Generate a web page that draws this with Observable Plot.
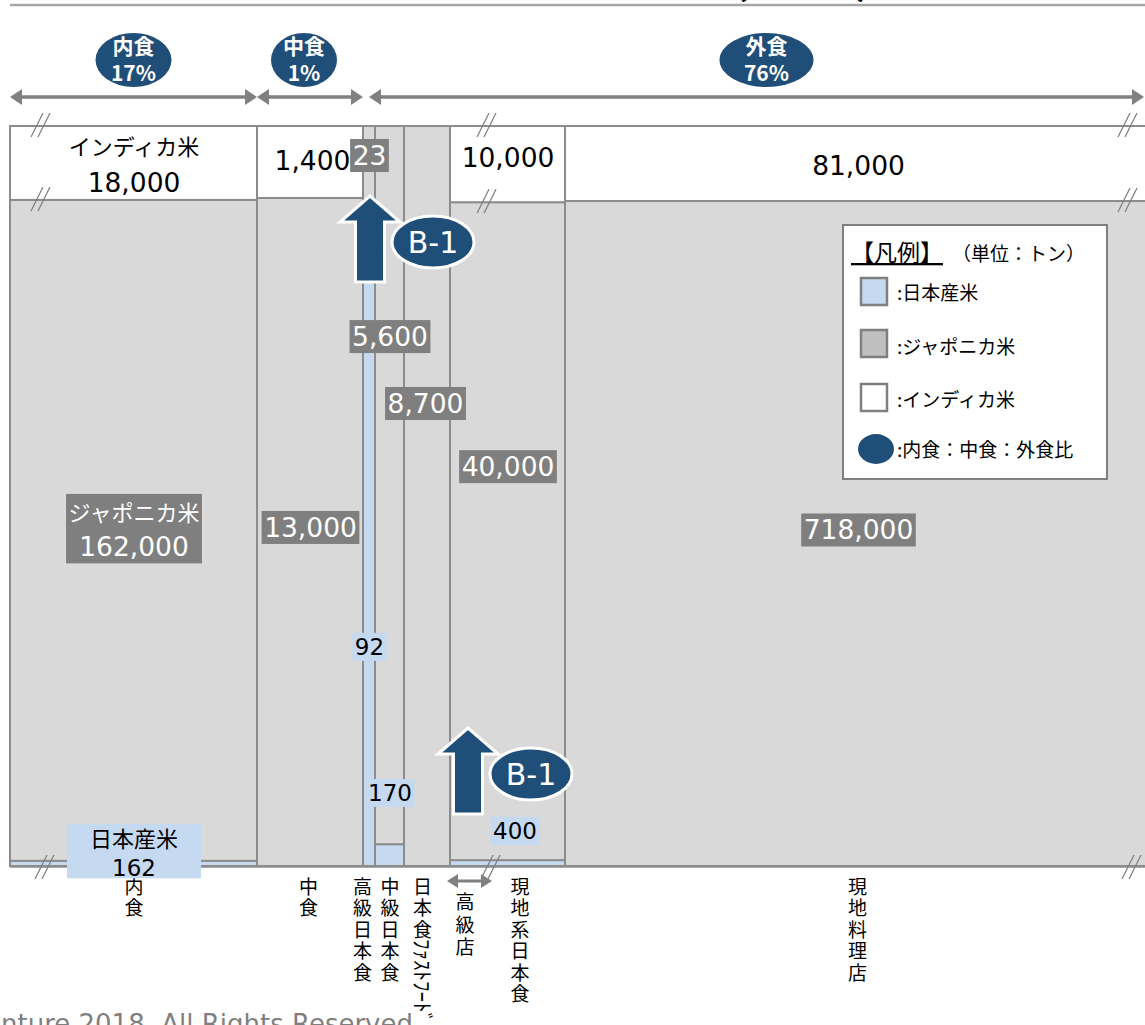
<!DOCTYPE html>
<html lang="ja">
<head>
<meta charset="utf-8">
<script src="https://cdn.jsdelivr.net/npm/d3@7"></script>
<script src="https://cdn.jsdelivr.net/npm/@observablehq/plot@0.6"></script>
<style>
  html, body { margin: 0; padding: 0; background: #fff; overflow: hidden; }
  #chart svg { display: block; }
</style>
</head>
<body>
<div id="chart"></div>
<script>
// ---- data: rice consumption by channel (tonnes) ----
const columns = ["内食", "中食", "高級日本食", "中級日本食", "日本食ﾌｧｽﾄﾌｰﾄﾞ", "現地系日本食", "現地料理店"];
const japaneseRice = [162, 0, 92, 170, 0, 400, 0];
const japonicaRice = [162000, 13000, 23, 5600, 8700, 40000, 718000];
const indicaRice = [18000, 1400, 0, 0, 0, 10000, 81000];
const riceTypes = ["日本産米", "ジャポニカ米", "インディカ米"];
const channels = ["内食", "中食", "外食"];
const channelShare = ["17%", "1%", "76%"];
const channelFirstColumn = [0, 1, 2];
const highEndLabel = "高級店";
const calloutLabel = "B-1";
const legendTitle = "【凡例】";
const legendUnit = "（単位：トン）";
const legendRatio = "内食：中食：外食比";
const titleText = "(推計値)";
const copyrightText = "Copyright © Accenture 2018. All Rights Reserved";

// ---- layout ----
const W = 1145, H = 1025;
const columnSpan = [247, 106, 12, 29, 46, 115, 586]; // display widths (broken axis, not to scale)
const INDICA_CAP = 0.103;   // taller indica bands are drawn broken
const JAPAN_FLOOR = 0.007;  // thinnest visible strip
const FONT = "'DejaVu Sans', 'Noto Sans CJK JP', sans-serif";
const JP = "'Noto Sans CJK JP', 'Noto Sans', sans-serif";
const NAVY = "#1f4e79", GRAY = "#808080", EDGE = "#8c8c8c";
const fillColors = ["#c5d9f1", "#d9d9d9", "#ffffff"];

let acc = 0;
const cols = columns.map((name, i) => {
  const x1 = acc, x2 = acc + columnSpan[i];
  acc = x2;
  const total = japaneseRice[i] + japonicaRice[i] + indicaRice[i];
  const sj = japaneseRice[i] ? Math.max(japaneseRice[i] / total, JAPAN_FLOOR) : 0;
  const sn = indicaRice[i] ? Math.min(indicaRice[i] / total, INDICA_CAP) : 0;
  return {name, i, x1, x2, sj, sn};
});
const cells = cols.flatMap(c => [
  {col: c.i, type: riceTypes[0], value: japaneseRice[c.i], x1: c.x1, x2: c.x2, y1: 0, y2: c.sj},
  {col: c.i, type: riceTypes[1], value: japonicaRice[c.i], x1: c.x1, x2: c.x2, y1: c.sj, y2: 1 - c.sn},
  {col: c.i, type: riceTypes[2], value: indicaRice[c.i], x1: c.x1, x2: c.x2, y1: 1 - c.sn, y2: 1}
]).filter(d => d.value > 0);

// value label placement: t = rice type index, offsets in pixels
const labelPlacement = [
  {col: 0, t: 2, named: true, nameDy: -16, numDy: 20},
  {col: 1, t: 2, dx: 2, dy: -1},
  {col: 5, t: 2, dy: -6},
  {col: 6, t: 2, dy: 3},
  {col: 0, t: 1, named: true, nameDy: -17, numDy: 17},
  {col: 1, t: 1, dy: -4},
  {col: 2, t: 1, dy: -44},
  {col: 3, t: 1, dy: -148},
  {col: 4, t: 1, dx: -2, dy: -92},
  {col: 5, t: 1, dy: -64},
  {col: 6, t: 1, dy: -3},
  {col: 0, t: 0, named: true, nameDy: -24, numDy: 5, padX: 23, padY: -3},
  {col: 2, t: 0, dy: 77},
  {col: 3, t: 0, dy: -62},
  {col: 5, t: 0, dx: 7, dy: -32}
];
const labelStyle = [
  {color: "#000", bg: "#c5d9f1", size: 23},
  {color: "#fff", bg: "#7f7f7f", size: 26.5},
  {color: "#000", bg: null, size: 26.5}
];
const fmt = d3.format(",");
const mid = d => (d.x1 + d.x2) / 2;
const midY = d => (d.y1 + d.y2) / 2;

const valueMarkOwner = []; // label index for each value mark, in drawing order
const valueMarks = labelPlacement.flatMap((p, k) => {
  const cell = cells.find(d => d.col === p.col && d.type === riceTypes[p.t]);
  const st = labelStyle[p.t];
  const base = {x: mid, y: midY, dx: p.dx || 0, fill: st.color};
  const marks = [Plot.text([cell], {...base, text: d => fmt(d.value), fontSize: st.size, fontFamily: FONT, dy: p.named ? p.numDy : p.dy})];
  if (p.named) marks.unshift(Plot.text([cell], {...base, text: d => d.type, fontSize: 22, fontFamily: JP, dy: p.nameDy}));
  marks.forEach(() => valueMarkOwner.push(k));
  return marks;
});

// category names under the columns, written vertically
const categoryDx = [0, -2, -7, 0, -5, 12, -1];
const categoryMarks = cols.flatMap((c, i) => {
  const m = c.name.match(/^([^\uFF61-\uFF9F]*)([\uFF61-\uFF9F]*)$/);
  const stacked = m[1].split("").join("\n");
  const marks = [Plot.text([c], {x: mid, y: () => 0, text: () => stacked, dx: categoryDx[i], dy: 12,
    lineAnchor: "top", lineHeight: 1.13, fontSize: 19, fontFamily: JP, fill: "#000"})];
  if (m[2]) marks.push(Plot.text([c], {x: mid, y: () => 0, text: () => m[2], dx: categoryDx[i] - 1, dy: 12 + m[1].length * 21.5 - 4,
    rotate: 90, textAnchor: "start", fontSize: 21, fontFamily: JP, fill: "#000"}));
  return marks;
});

const baseMarks = [
  Plot.rect(cells, {x1: "x1", x2: "x2", y1: "y1", y2: "y2", fill: "type", stroke: EDGE, strokeWidth: 2}),
  Plot.ruleY([0], {stroke: EDGE, strokeWidth: 2.5}),
  ...categoryMarks
];

const plot = Plot.plot({
  width: W, height: H,
  marginTop: 126, marginBottom: 159, marginLeft: 10, marginRight: -6,
  x: {domain: [0, d3.sum(columnSpan)], axis: null},
  y: {domain: [0, 1], axis: null},
  color: {domain: riceTypes, range: fillColors},
  style: {fontFamily: FONT, background: "white", overflow: "hidden"},
  marks: [...baseMarks, ...valueMarks]
});
document.getElementById("chart").append(plot);

const svg = d3.select(plot);
const sx = v => plot.scale("x").apply(v);
const sy = v => plot.scale("y").apply(v);

// background boxes behind value labels
const svgBox = plot.getBoundingClientRect();
const markGroups = Array.from(plot.children).filter(e => e.tagName.toLowerCase() === "g");
const valueGroups = markGroups.slice(baseMarks.length);
labelPlacement.forEach((p, k) => {
  const st = labelStyle[p.t];
  if (!st.bg) return;
  const groups = valueGroups.filter((g, m) => valueMarkOwner[m] === k);
  if (!groups.length) return;
  let x0 = Infinity, y0 = Infinity, x1 = -Infinity, y1 = -Infinity;
  groups.forEach(g => g.querySelectorAll("text").forEach(t => {
    const r = t.getBoundingClientRect();
    x0 = Math.min(x0, r.left); y0 = Math.min(y0, r.top);
    x1 = Math.max(x1, r.right); y1 = Math.max(y1, r.bottom);
  }));
  const px = p.padX ?? 2.5, py = p.padY ?? 1;
  const rect = document.createElementNS("http://www.w3.org/2000/svg", "rect");
  rect.setAttribute("x", x0 - svgBox.left - px);
  rect.setAttribute("y", y0 - svgBox.top - py);
  rect.setAttribute("width", x1 - x0 + 2 * px);
  rect.setAttribute("height", y1 - y0 + 2 * py);
  rect.setAttribute("fill", st.bg);
  plot.insertBefore(rect, groups[0]);
});

const ann = svg.append("g").attr("text-anchor", "start");

// title rule (heading is cropped above)
ann.append("line").attr("x1", 10).attr("x2", W).attr("y1", 5).attr("y2", 5)
  .attr("stroke", "#a6a6a6").attr("stroke-width", 2.5);
ann.append("text").attr("x", 802).attr("y", -5).attr("text-anchor", "middle")
  .attr("font-family", JP).attr("font-weight", 700).attr("font-size", 36).text(titleText);

// break marks "//"
function breakMark(cx, cy) {
  [0, 7].forEach(o => ann.append("line")
    .attr("x1", cx - 11 + o).attr("y1", cy + 12).attr("x2", cx + 1 + o).attr("y2", cy - 12)
    .attr("stroke", "#7f7f7f").attr("stroke-width", 1.3));
}
[{col: 0, dx: 32}, {col: 5, dx: 38}, {col: 6, dx: 564}].forEach(b => {
  const c = cols[b.col];
  const x = sx(c.x1) + b.dx;
  breakMark(x, sy(1) - 1);
  breakMark(x, sy(1 - c.sn) - 1);
  breakMark(x + 4, sy(0) + 1);
});

// channel spans with ratio badges
function hArrow(xa, xb, y, head = 12, half = 8, w = 3.5) {
  ann.append("line").attr("x1", xa + head - 1).attr("x2", xb - head + 1).attr("y1", y).attr("y2", y)
    .attr("stroke", GRAY).attr("stroke-width", w);
  ann.append("path").attr("d", `M${xa},${y}L${xa + head},${y - half}L${xa + head},${y + half}Z`).attr("fill", GRAY);
  ann.append("path").attr("d", `M${xb},${y}L${xb - head},${y - half}L${xb - head},${y + half}Z`).attr("fill", GRAY);
}
const badgeDx = [0, -6, 10], badgeRx = [38, 33, 47], spanGap = [0, 0, 6];
channels.forEach((name, c) => {
  const first = channelFirstColumn[c];
  const last = (channelFirstColumn[c + 1] ?? cols.length) - 1;
  const xa = sx(cols[first].x1) + spanGap[c];
  const xb = Math.min(sx(cols[last].x2), W - 1);
  hArrow(xa, xb, 97);
  const cx = (xa + xb) / 2 + badgeDx[c];
  ann.append("ellipse").attr("cx", cx).attr("cy", 60).attr("rx", badgeRx[c]).attr("ry", 27).attr("fill", NAVY);
  ann.append("text").attr("x", cx).attr("y", 54).attr("text-anchor", "middle").attr("fill", "#fff")
    .attr("font-family", JP).attr("font-weight", 700).attr("font-size", 21).text(name);
  ann.append("text").attr("x", cx).attr("y", 81).attr("text-anchor", "middle").attr("fill", "#fff")
    .attr("font-family", JP).attr("font-weight", 700).attr("font-size", 21).text(channelShare[c]);
});

// high-end bracket under 現地系日本食
const hx = sx(cols[5].x1);
hArrow(hx - 3, hx + 42, 881, 11, 7, 3);
ann.append("text").attr("x", hx + 15).attr("y", 895).attr("text-anchor", "middle")
  .attr("font-family", JP).attr("font-size", 19)
  .selectAll("tspan").data(highEndLabel.split("")).join("tspan")
  .attr("x", hx + 15).attr("dy", (d, i) => i ? 22.5 : 14).text(d => d);

// B-1 callouts
function callout(tx, ty) {
  const g = ann.append("g");
  g.append("path").attr("d", `M${tx},${ty}L${tx + 30},${ty + 26}L${tx + 14.5},${ty + 26}L${tx + 14.5},${ty + 86}` +
    `L${tx - 14.5},${ty + 86}L${tx - 14.5},${ty + 26}L${tx - 30},${ty + 26}Z`)
    .attr("fill", NAVY).attr("stroke", "#fff").attr("stroke-width", 3);
  g.append("ellipse").attr("cx", tx + 63).attr("cy", ty + 46).attr("rx", 41).attr("ry", 26)
    .attr("fill", NAVY).attr("stroke", "#fff").attr("stroke-width", 3);
  g.append("text").attr("x", tx + 63).attr("y", ty + 46 + 11).attr("text-anchor", "middle").attr("fill", "#fff")
    .attr("font-family", FONT).attr("font-size", 30).text(calloutLabel);
}
callout(sx(mid(cols[2])) + 1, 196);
callout(hx + 18, 728);

// legend
const lg = ann.append("g").attr("transform", "translate(843,225)");
lg.append("rect").attr("width", 264).attr("height", 254).attr("fill", "#fff").attr("stroke", "#7f7f7f").attr("stroke-width", 2);
lg.append("text").attr("x", 8).attr("y", 36).attr("font-family", JP).attr("font-size", 23)
  .attr("text-decoration", "underline").text(legendTitle);
lg.append("text").attr("x", 109).attr("y", 36).attr("font-family", JP).attr("font-size", 19).text(legendUnit);
const swatchFill = ["#c5d9f1", "#bfbfbf", "#ffffff"];
const swatchY = [53, 105, 159], legendTextY = [75, 129, 182];
riceTypes.forEach((t, i) => {
  lg.append("rect").attr("x", 18).attr("y", swatchY[i]).attr("width", 26).attr("height", 27)
    .attr("fill", swatchFill[i]).attr("stroke", "#7f7f7f").attr("stroke-width", 2.5);
  lg.append("text").attr("x", 54).attr("y", legendTextY[i]).attr("font-family", JP).attr("font-size", 19).text(":" + t);
});
lg.append("ellipse").attr("cx", 33).attr("cy", 224).attr("rx", 18).attr("ry", 15).attr("fill", NAVY);
lg.append("text").attr("x", 54).attr("y", 232).attr("font-family", JP).attr("font-size", 19).text(":" + legendRatio);

// footer
ann.append("text").attr("x", 413).attr("y", 1033).attr("text-anchor", "end").attr("fill", "#7f7f7f")
  .attr("font-family", FONT).attr("font-size", 26).text(copyrightText);
</script>
</body>
</html>
